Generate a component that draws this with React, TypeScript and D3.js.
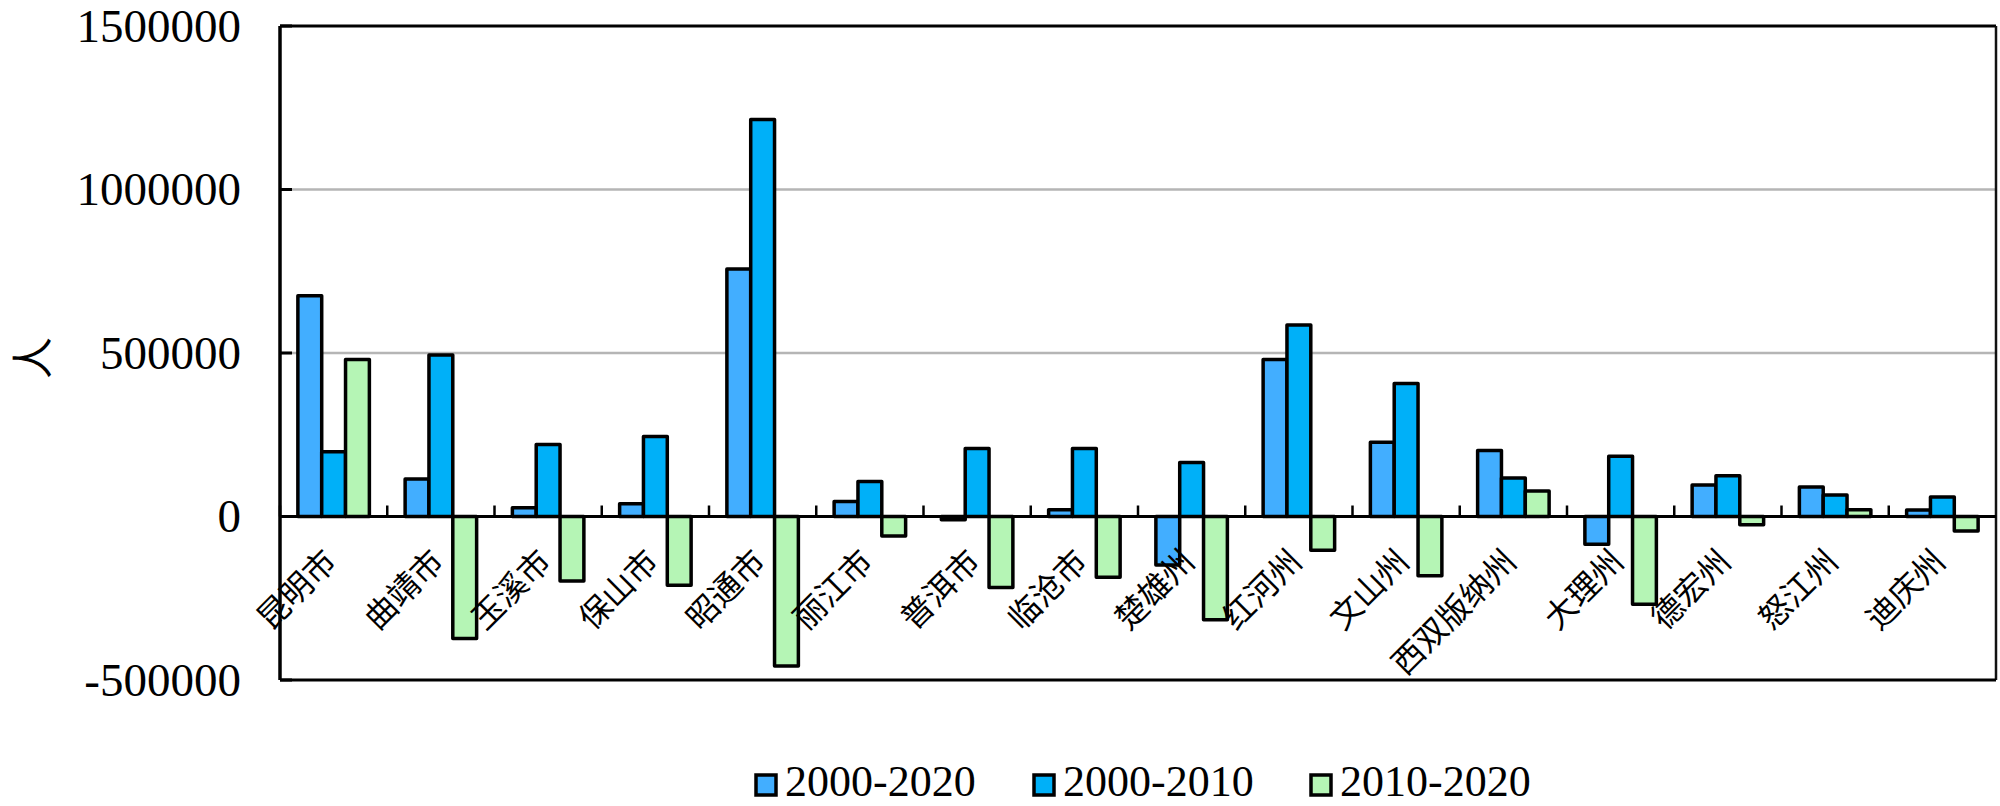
import React from "react";
import * as d3 from "d3";

const categories = ["昆明市","曲靖市","玉溪市","保山市","昭通市","丽江市","普洱市","临沧市","楚雄州","红河州","文山州","西双版纳州","大理州","德宏州","怒江州","迪庆州"];
const seriesNames = ["2000-2020", "2000-2010", "2010-2020"];
const s2000_2020 = [675000, 115000, 27000, 39000, 757000, 46000, -10000, 21000, -148000, 480000, 227000, 202000, -85000, 96000, 90000, 20000];
const s2000_2010 = [198000, 494000, 220000, 245000, 1214000, 107000, 208000, 208000, 165000, 586000, 407000, 118000, 184000, 125000, 66000, 60000];
const s2010_2020 = [480000, -373000, -197000, -210000, -457000, -60000, -217000, -186000, -316000, -103000, -181000, 78000, -268000, -25000, 21000, -44000];
const yTicks = [-500000, 0, 500000, 1000000, 1500000];
const colors = ["#42AEFF", "#00B0F8", "#B5F5B5"];

const W = 2000, H = 806;
const L = 280, R = 1996, T = 26, B = 680;

export default function App() {
  const series = [s2000_2020, s2000_2010, s2010_2020];
  const x = d3.scaleBand<string>().domain(categories).range([L, R]).paddingInner(1 / 3).paddingOuter(1 / 6);
  const xs = d3.scaleBand<number>().domain([0, 1, 2]).range([0, x.bandwidth()]).padding(0);
  const y = d3.scaleLinear().domain([-500000, 1500000]).range([B, T]);
  const step = x.step();
  const y0 = y(0);
  const serif = "'Liberation Serif', 'DejaVu Serif', serif";
  const cjk = "'Noto Sans CJK SC', sans-serif";
  const legendX = [754, 1032, 1309];
  return (
    <svg width={W} height={H} style={{ position: "absolute", left: 0, top: 0, background: "#fff" }}>
      <rect x={0} y={0} width={W} height={H} fill="#fff" />
      {yTicks.filter(t => t > -500000 && t < 1500000 && t !== 0).map(t => (
        <line key={"g" + t} x1={L} x2={R} y1={y(t)} y2={y(t)} stroke="#b5b5b5" strokeWidth={2.5} />
      ))}
      {/* plot border */}
      <line x1={L} x2={R} y1={T} y2={T} stroke="#000" strokeWidth={3} />
      <line x1={R} x2={R} y1={T} y2={B} stroke="#111" strokeWidth={2.5} />
      <line x1={L} x2={R} y1={B} y2={B} stroke="#000" strokeWidth={3} />
      <line x1={L} x2={L} y1={T} y2={B} stroke="#000" strokeWidth={3.5} />
      {yTicks.map(t => (
        <line key={"t" + t} x1={L} x2={L + 12} y1={y(t)} y2={y(t)} stroke="#000" strokeWidth={3} />
      ))}
      {yTicks.map(t => (
        <text key={"l" + t} x={241} y={y(t)} dy="0.34em" textAnchor="end" fontFamily={serif} fontSize={47} fill="#000">
          {t < 0 ? "-" + Math.abs(t) : String(t)}
        </text>
      ))}
      {/* zero line and category ticks */}
      <line x1={L} x2={R} y1={y0} y2={y0} stroke="#000" strokeWidth={3} />
      {categories.map((c, i) => (
        <line key={"ct" + i} x1={L + i * step} x2={L + i * step} y1={y0} y2={y0 - 11} stroke="#000" strokeWidth={2.5} />
      ))}
      {categories.map((c, i) => (
        <g key={"b" + i}>
          {series.map((s, k) => {
            const v = s[i];
            const top = y(Math.max(v, 0));
            const bot = y(Math.min(v, 0));
            return (
              <rect key={k} x={(x(c) as number) + xs(k)!} y={top} width={xs.bandwidth()} height={Math.max(bot - top, 0.5)}
                fill={colors[k]} stroke="#000" strokeWidth={3.5} strokeLinejoin="round" />
            );
          })}
        </g>
      ))}
      {categories.map((c, i) => {
        const cx = (x(c) as number) + x.bandwidth() / 2 + 5;
        const cy = y0 + 47;
        return (
          <text key={"xl" + i} x={cx} y={cy} textAnchor="end" fontFamily={cjk} fontSize={32} fill="#000"
            transform={`rotate(-45 ${cx} ${cy})`}>{c}</text>
        );
      })}
      <text x={33} y={358} textAnchor="middle" dy="0.35em" fontFamily={cjk} fontSize={42} fill="#000"
        transform="rotate(-90 33 358)">人</text>
      {seriesNames.map((n, k) => (
        <g key={"lg" + k}>
          <rect x={legendX[k] + 2} y={775} width={20} height={20} fill={colors[k]} stroke="#000" strokeWidth={3.5} />
          <text x={legendX[k] + 31} y={796} fontFamily={serif} fontSize={44} fill="#000">{n}</text>
        </g>
      ))}
    </svg>
  );
}
